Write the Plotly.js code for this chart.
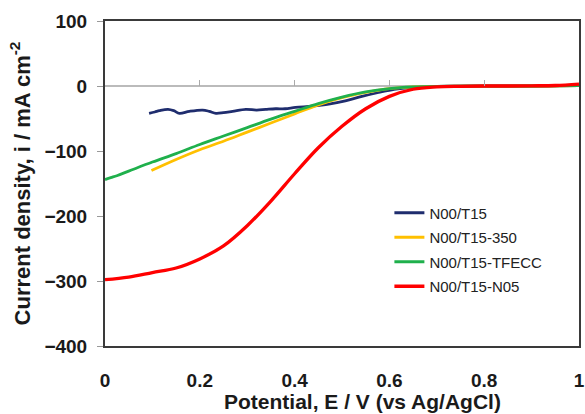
<!DOCTYPE html>
<html><head><meta charset="utf-8">
<script src="https://cdn.plot.ly/plotly-3.0.1.min.js"></script>
<style>html,body{margin:0;padding:0;background:#fff}</style>
</head><body><div id="chart" style="width:585px;height:414px"></div>
<script>
const seriesNames = ["N00/T15", "N00/T15-350", "N00/T15-TFECC", "N00/T15-N05"];
const seriesColors = ["#1f2d6e", "#ffc000", "#1fb04c", "#ff0000"];
const xTitle = 'Potential, E / V (vs Ag/AgCl)';
const yTitle = 'Current density, i / mA cm<sup>-2</sup>';

const navyX = [0.093,0.105,0.115,0.133,0.145,0.157,0.178,0.206,0.22,0.234,0.25,0.269,0.297,0.32,0.339,0.36,0.38,0.402,0.437,0.472,0.507,0.542,0.577,0.61,0.65,0.7,0.8,0.9,1.0];
const navyY = [-42,-40,-38,-36,-38,-42,-39,-37,-39,-42,-41,-39,-36,-37,-36,-35,-35,-33,-31,-28,-23,-16,-10,-5,-2,-0.5,0,0,0.5];

const orangeX = [0.098,0.15,0.2,0.25,0.3,0.35,0.4,0.45,0.5,0.55,0.6,0.65,0.7,0.8,0.9,1.0];
const orangeY = [-130,-113,-98,-85,-71,-57,-43,-29,-18,-10,-4,-1.5,-0.5,-0.3,0,0.5];

const greenX = [0,0.012,0.025,0.05,0.1,0.15,0.2,0.25,0.3,0.35,0.4,0.45,0.5,0.55,0.6,0.65,0.7,0.8,0.9,1.0];
const greenY = [-144,-141,-138,-131,-117,-104,-90,-77,-64,-51,-39,-27,-17,-9,-4,-1.5,-0.5,-0.3,0,0.5];

const redX = [0,0.05,0.1,0.15,0.2,0.25,0.3,0.35,0.4,0.45,0.5,0.55,0.6,0.65,0.7,0.75,0.8,0.85,0.9,0.95,1.0];
const redY = [-298,-294,-287,-280,-266,-246,-215,-177,-135,-95,-62,-35,-16,-5,-1.5,-0.5,0,0,0.3,0.8,3];

const xs = [navyX, orangeX, greenX, redX];
const ys = [navyY, orangeY, greenY, redY];

const traces = seriesNames.map((n, i) => ({
  x: xs[i], y: ys[i], name: n, type: 'scatter', mode: 'lines', legendgroup: 'g' + i,
  line: {color: seriesColors[i], width: i === 3 ? 3.3 : 2.8, shape: 'spline', smoothing: 1}
}));
// empty trace that carries the tick axis drawn along the zero line
traces.push({x: [], y: [], xaxis: 'x2', yaxis: 'y', type: 'scatter', mode: 'lines', showlegend: false, hoverinfo: 'skip'});

const layout = {
  width: 585, height: 414,
  margin: {l: 105, r: 6, t: 21, b: 68},
  paper_bgcolor: '#fff', plot_bgcolor: '#fff',
  font: {family: 'Liberation Sans, Arial, sans-serif', color: '#1a1a1a'},
  showlegend: true,
  legend: {x: 0.6, y: 0.46, xanchor: 'left', yanchor: 'top', bgcolor: 'rgba(0,0,0,0)',
           font: {size: 15, color: '#222'}, tracegroupgap: 2, itemwidth: 30},
  xaxis: {
    range: [0, 1], dtick: 0.2, tickformat: '~g',
    showgrid: false, zeroline: false,
    showline: true, mirror: true, linecolor: '#3a3a3a', linewidth: 2,
    ticks: '', ticklabelstandoff: 16, ticklabeloverflow: 'allow',
    tickfont: {size: 19, color: '#1a1a1a', weight: 'bold'}
  },
  xaxis2: {
    range: [0, 1], dtick: 0.2, overlaying: 'x', anchor: 'free', position: 0.8, side: 'bottom',
    showgrid: false, zeroline: false, showline: false, showticklabels: false,
    ticks: 'inside', ticklen: 6, tickcolor: '#aaaaaa', tickwidth: 1.2
  },
  yaxis: {
    range: [-400, 100], dtick: 100,
    showgrid: false, zeroline: true, zerolinecolor: '#bbbbbb', zerolinewidth: 1.3,
    showline: true, mirror: true, linecolor: '#3a3a3a', linewidth: 2,
    ticks: 'outside', ticklen: 6, tickcolor: '#999999', ticklabelstandoff: 6,
    tickfont: {size: 19, color: '#1a1a1a', weight: 'bold'},
    title: {text: yTitle, font: {size: 22, weight: 'bold'}, standoff: 8}
  },
  annotations: [{
    text: xTitle, xref: 'paper', yref: 'paper', x: 0.544, y: -0.172,
    xanchor: 'center', yanchor: 'middle', showarrow: false,
    font: {size: 21, weight: 'bold', color: '#1a1a1a'}
  }]
};

Plotly.newPlot('chart', traces, layout, {displayModeBar: false, staticPlot: true});
</script></body></html>
